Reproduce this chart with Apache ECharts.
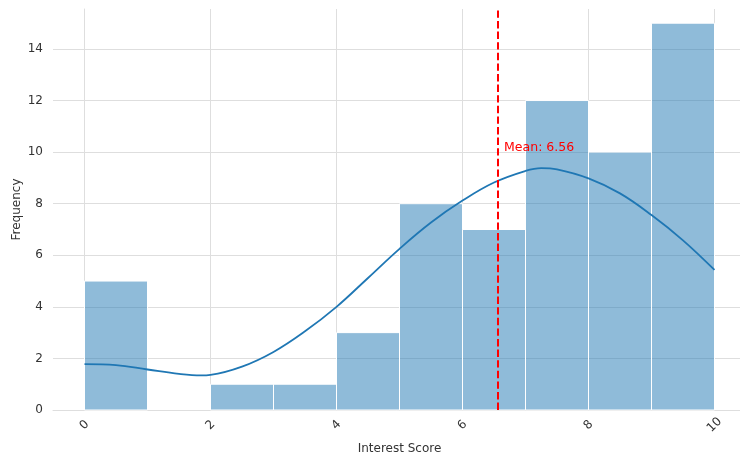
<!DOCTYPE html>
<html><head><meta charset="utf-8">
<script src="https://cdn.jsdelivr.net/npm/echarts@6/dist/echarts.min.js"></script>
<style>html,body{margin:0;padding:0;background:#fff}#c{width:740px;height:457px}</style>
</head><body><div id="c"></div>
<script>
// ---- data ----
const binEdges = [0, 1, 2, 3, 4, 5, 6, 7, 8, 9, 10];
const binCounts = [5, 0, 1, 1, 3, 8, 7, 12, 10, 15];
const kdeX = [0, 0.5, 1.0, 1.5, 1.85, 2.0, 2.5, 3.0, 3.5, 4.0, 4.5, 5.0, 5.5, 6.0, 6.5, 7.0, 7.25, 7.5, 8.0, 8.5, 9.0, 9.5, 10.0];
const kdeY = [1.78, 1.74, 1.57, 1.40, 1.34, 1.36, 1.68, 2.25, 3.05, 4.0, 5.12, 6.25, 7.27, 8.12, 8.82, 9.27, 9.38, 9.33, 8.98, 8.4, 7.56, 6.58, 5.43];
const meanValue = 6.56;
const meanText = 'Mean: 6.56';
const meanTextPos = [6.66, 10];
const xTickValues = [0, 2, 4, 6, 8, 10];
const yTickValues = [0, 2, 4, 6, 8, 10, 12, 14];
const xTitle = 'Interest Score';
const yTitle = 'Frequency';

// ---- chart ----
const FONT = 'DejaVu Sans';
const GRID_C = '#dedede';
const TXT_C = '#333333';
const chart = echarts.init(document.getElementById('c'), null, {renderer: 'canvas'});
const barData = binCounts.map((c, i) => [binEdges[i], binEdges[i + 1], c]).filter(d => d[2] > 0);
const kdeData = kdeX.map((x, i) => [x, kdeY[i]]);

chart.setOption({
  animation: false,
  backgroundColor: '#ffffff',
  grid: {left: 53, top: 9, width: 693, height: 401, containLabel: false, outerBoundsMode: 'none'},
  xAxis: {
    type: 'value', min: -0.5, max: 10.5,
    name: xTitle, nameLocation: 'middle', nameGap: 33, nameMoveOverlap: false,
    nameTextStyle: {fontFamily: FONT, fontSize: 12, color: TXT_C},
    axisLine: {show: true, onZero: false, lineStyle: {color: GRID_C, width: 1}},
    axisTick: {show: false, customValues: xTickValues},
    axisLabel: {
      customValues: xTickValues,
      rotate: 45, margin: 15, align: 'center', verticalAlign: 'middle',
      fontFamily: FONT, fontSize: 12, color: TXT_C
    },
    splitLine: {show: true, lineStyle: {color: GRID_C, width: 1}}
  },
  yAxis: {
    type: 'value', min: 0, max: 15.55,
    name: yTitle, nameLocation: 'middle', nameGap: 30, nameMoveOverlap: false,
    nameTextStyle: {fontFamily: FONT, fontSize: 12, color: TXT_C},
    axisLine: {show: true, lineStyle: {color: GRID_C, width: 1}},
    axisTick: {show: false, customValues: yTickValues},
    axisLabel: {
      customValues: yTickValues,
      margin: 10, fontFamily: FONT, fontSize: 12, color: TXT_C
    },
    splitLine: {show: true, showMinLine: false, lineStyle: {color: GRID_C, width: 1}}
  },
  series: [
    {
      type: 'custom',
      data: barData,
      encode: {x: [0, 1], y: 2},
      z: 2,
      renderItem: function (params, api) {
        const p0 = api.coord([api.value(0), api.value(2)]);
        const p1 = api.coord([api.value(1), 0]);
        return {
          type: 'rect',
          shape: {x: p0[0], y: p0[1], width: p1[0] - p0[0], height: p1[1] - p0[1]},
          style: {fill: 'rgba(31,119,180,0.5)', stroke: '#ffffff', lineWidth: 1}
        };
      }
    },
    {
      type: 'line',
      data: kdeData,
      smooth: 0.4,
      showSymbol: false,
      z: 3,
      lineStyle: {color: '#1f77b4', width: 1.8},
      markLine: {
        silent: true, symbol: 'none', animation: false,
        label: {show: false},
        lineStyle: {color: '#ff0000', width: 2, type: [7.4, 3.2]},
        data: [{xAxis: meanValue}]
      }
    },
    {
      type: 'custom',
      data: [meanTextPos],
      z: 5,
      renderItem: function (params, api) {
        const p = api.coord([api.value(0), api.value(1)]);
        return {
          type: 'text',
          x: p[0], y: p[1] - 4,
          style: {text: meanText, fill: '#ff0000', font: '12.5px "DejaVu Sans"', align: 'left', verticalAlign: 'middle'}
        };
      }
    }
  ]
});
</script>
</body></html>
